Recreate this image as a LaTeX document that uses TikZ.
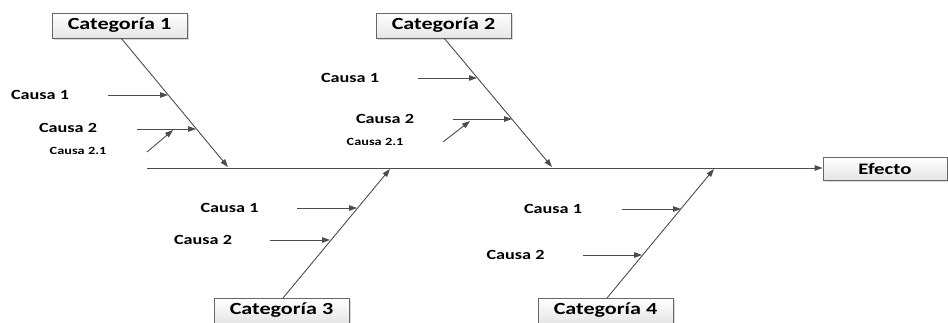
\documentclass[tikz,border=0pt]{standalone}
\usepackage{fontspec}
\setmainfont{Carlito}[FakeStretch=1.3]
\usetikzlibrary{arrows.meta,shadows}
\begin{document}
\begin{tikzpicture}[x=1pt,y=-1pt,
  bone/.style={draw=black!65, line width=0.9pt},
  tip/.style={-{Triangle[length=8pt,width=5.5pt]}, black!70},
  catbox/.style={draw=black!60, line width=0.7pt, top color=white, bottom color=black!10,
    minimum width=135pt, minimum height=25pt, inner sep=0pt,
    font=\bfseries\fontsize{17}{18}\selectfont, text=black,
    drop shadow={shadow xshift=1.5pt, shadow yshift=-1.5pt, fill=black!25, opacity=0.6}},
  cause/.style={font=\bfseries\fontsize{14}{15}\selectfont, text=black, inner sep=0pt},
  subcause/.style={font=\bfseries\fontsize{11}{12}\selectfont, text=black, inner sep=0pt}
]
\useasboundingbox (0,0) rectangle (948,322);

% effect box and main spine
\node[catbox, minimum width=124pt, minimum height=23pt, font=\bfseries\fontsize{16}{17}\selectfont] (efecto) at (885,168.5) {Efecto};
\coordinate (spineL) at (147,168);
\draw[bone, tip] (spineL) -- (efecto.west |- spineL);

% category boxes
\node[catbox] (cat1) at (119.5,25.5) {Categoría 1};
\node[catbox] (cat2) at (443.5,25.5) {Categoría 2};
\node[catbox] (cat3) at (281.5,310.5) {Categoría 3};
\node[catbox] (cat4) at (605.5,310.5) {Categoría 4};

% bone ends on the spine
\coordinate (b1top) at (121,38);
\coordinate (b1end) at (228,167);
\coordinate (b2top) at (444,38);
\coordinate (b2end) at (552,167);
\coordinate (b3bot) at (283,298);
\coordinate (b3end) at (390,169);
\coordinate (b4bot) at (607,298);
\coordinate (b4end) at (714,169);

\draw[bone, tip] (b1top) -- (b1end);
\draw[bone, tip] (b2top) -- (b2end);
\draw[bone, tip] (b3bot) -- (b3end);
\draw[bone, tip] (b4bot) -- (b4end);

% causes of category 1
\node[cause] (c11) at (40,95) {Causa 1};
\node[cause] (c12) at (68,128) {Causa 2};
\node[subcause] (c121) at (78,151) {Causa 2.1};
\coordinate (c11s) at (108,95);   \coordinate (c11e) at (168,95);
\coordinate (c12s) at (137,129);  \coordinate (c12e) at (196,129);
\coordinate (c121s) at (147,152); \coordinate (c121e) at (173,130);
\draw[bone, tip] (c11s) -- (c11e);
\draw[bone, tip] (c12s) -- (c12e);
\draw[bone, tip] (c121s) -- (c121e);

% causes of category 2
\node[cause] (c21) at (350,78) {Causa 1};
\node[cause] (c22) at (385,119) {Causa 2};
\node[subcause] (c221) at (375,142) {Causa 2.1};
\coordinate (c21s) at (418,78);   \coordinate (c21e) at (477,78);
\coordinate (c22s) at (453,119);  \coordinate (c22e) at (512,119);
\coordinate (c221s) at (443,142); \coordinate (c221e) at (470,121);
\draw[bone, tip] (c21s) -- (c21e);
\draw[bone, tip] (c22s) -- (c22e);
\draw[bone, tip] (c221s) -- (c221e);

% causes of category 3
\node[cause] (c31) at (229.5,208) {Causa 1};
\node[cause] (c32) at (203,240) {Causa 2};
\coordinate (c31s) at (297,208);  \coordinate (c31e) at (357,208);
\coordinate (c32s) at (270,240);  \coordinate (c32e) at (330,240);
\draw[bone, tip] (c31s) -- (c31e);
\draw[bone, tip] (c32s) -- (c32e);

% causes of category 4
\node[cause] (c41) at (553,209) {Causa 1};
\node[cause] (c42) at (515.5,255) {Causa 2};
\coordinate (c41s) at (622,209);  \coordinate (c41e) at (681,209);
\coordinate (c42s) at (583,255);  \coordinate (c42e) at (642,255);
\draw[bone, tip] (c41s) -- (c41e);
\draw[bone, tip] (c42s) -- (c42e);
\end{tikzpicture}
\end{document}
